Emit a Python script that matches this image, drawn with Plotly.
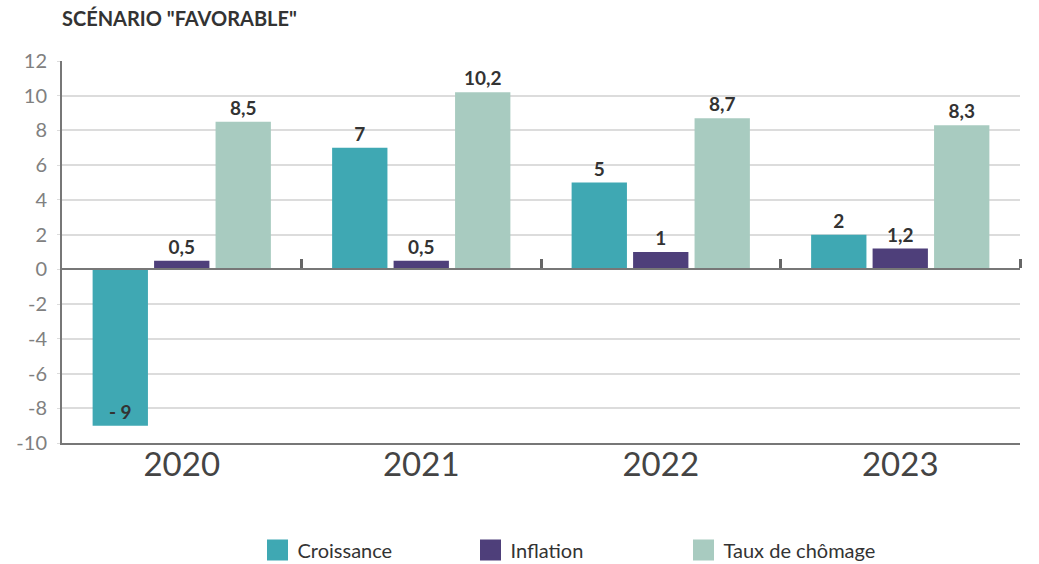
import plotly.graph_objects as go

years = ["2020", "2021", "2022", "2023"]
croissance = [-9, 7, 5, 2]
inflation = [0.5, 0.5, 1, 1.2]
chomage = [8.5, 10.2, 8.7, 8.3]
croissance_lbl = ["- 9", "7", "5", "2"]
inflation_lbl = ["0,5", "0,5", "1", "1,2"]
chomage_lbl = ["8,5", "10,2", "8,7", "8,3"]
series_names = ["Croissance", "Inflation", "Taux de chômage"]
colors = ["#3fa8b3", "#4e3f7a", "#a8cbc0"]
yticks = [12, 10, 8, 6, 4, 2, 0, -2, -4, -6, -8, -10]

xpos = list(range(len(years)))
FONT = "Lato, 'Noto Sans', sans-serif"

fig = go.Figure()
data = [(croissance, croissance_lbl), (inflation, inflation_lbl), (chomage, chomage_lbl)]
for (vals, lbls), name, col in zip(data, series_names, colors):
    pos = ["inside" if v < 0 else "outside" for v in vals]
    fig.add_trace(go.Bar(
        x=xpos, y=vals, name=name, marker=dict(color=col, line=dict(width=0)),
        text=["<b>" + l + "</b>" for l in lbls], textposition=pos, insidetextanchor="end",
        textfont=dict(size=19, color="#333333", family=FONT),
        cliponaxis=False, showlegend=False,
    ))
    fig.add_trace(go.Scatter(
        x=[None], y=[None], mode="markers", name=name,
        marker=dict(symbol="square", size=16, color=col, line=dict(color=col, width=5)),
        showlegend=True, xaxis="x", yaxis="y",
    ))

# invisible trace to anchor the zero-line axis
fig.add_trace(go.Scatter(x=[None], y=[None], xaxis="x2", yaxis="y", showlegend=False))

fig.update_layout(
    width=1039, height=564,
    paper_bgcolor="white", plot_bgcolor="white",
    margin=dict(l=62, r=19, t=61, b=121, autoexpand=False),
    barmode="group", bargap=0.23, bargroupgap=0.1,
    font=dict(family=FONT, color="#333333"),
    title=dict(text="<b>SCÉNARIO \"FAVORABLE\"</b>", x=62/1039, xanchor="left",
               y=1-19/564, yanchor="middle", xref="container", yref="container",
               font=dict(size=20, color="#333333", family=FONT)),
    xaxis=dict(range=[-0.5, 3.5], tickmode="array", tickvals=xpos, ticktext=years,
               tickfont=dict(size=33, color="#444444"), showgrid=False,
               showline=True, linecolor="#777777", linewidth=2, ticks="",
               ticklabelstandoff=-9,
               zeroline=False, fixedrange=True, automargin=False),
    xaxis2=dict(range=[-0.5, 3.5], overlaying="x", anchor="free", position=10/22,
                side="top", tickmode="array", tickvals=[0.5, 1.5, 2.5, 3.5],
                showticklabels=False, ticks="outside", ticklen=9, tickwidth=3,
                tickcolor="#666666", showline=True, linecolor="#777777", linewidth=2,
                showgrid=False, zeroline=False, automargin=False),
    yaxis=dict(range=[-10, 12], tickmode="array", tickvals=yticks,
               ticktext=[str(t) for t in yticks],
               tickfont=dict(size=20, color="#808080"),
               showgrid=True, gridcolor="#dcdcdc", gridwidth=2,
               showline=True, linecolor="#777777", linewidth=2,
               ticks="outside", ticklen=3, tickcolor="#dcdcdc",
               ticklabelstandoff=6,
               zeroline=False, automargin=False),
    legend=dict(orientation="h", xref="container", yref="container",
                x=577/1039, xanchor="center", y=(564-550)/564, yanchor="middle",
                font=dict(size=20, color="#333333"), entrywidth=168,
                entrywidthmode="pixels"),
)

fig.write_html("out.html", post_script="document.body.style.margin='0';",
               config={"displayModeBar": False})
